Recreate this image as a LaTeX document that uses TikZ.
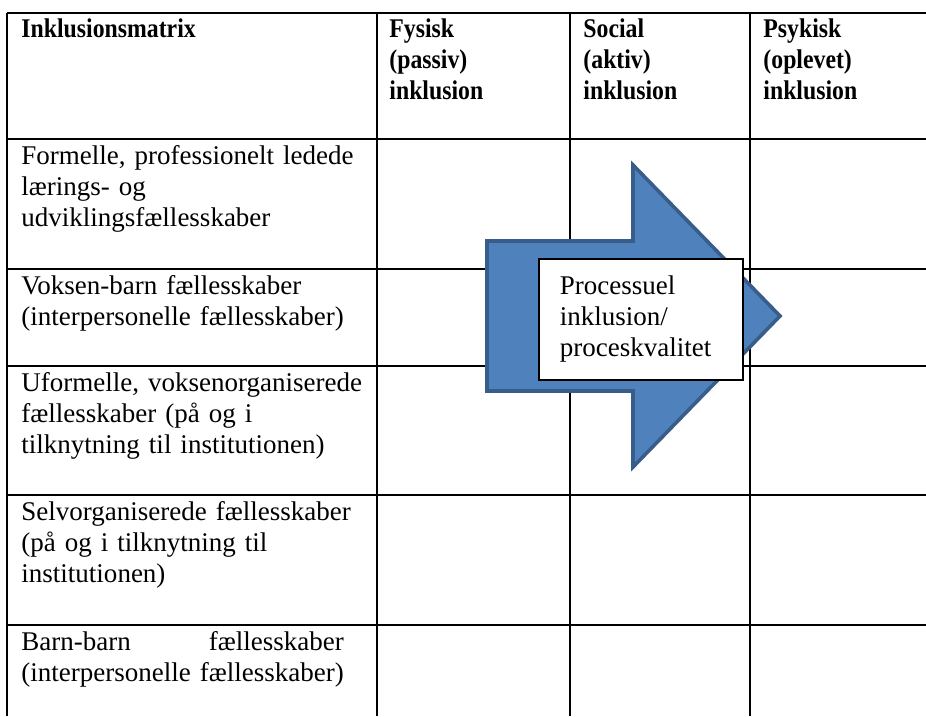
\documentclass[tikz,border=0pt]{standalone}
\usepackage{fontspec}
\setmainfont{Liberation Serif}
\newfontfamily\headfont[FakeStretch=0.88]{Liberation Serif}
\definecolor{arrowfill}{HTML}{4F81BD}
\definecolor{arrowedge}{HTML}{385D8A}
\newsavebox\lastline
\tikzset{
  cell/.style={anchor=base west,inner sep=0pt,align=left,text width=154pt,
    font=\fontsize{12}{13.8}\selectfont},
  head/.style={cell,text width=70pt,font=\headfont\fontsize{12}{13.8}\selectfont\bfseries},
  grid/.style={line width=0.8pt},
  procarrow/.style={fill=arrowfill,draw=arrowedge,line width=1.6pt,line join=miter},
  procbox/.style={draw,fill=white,line width=0.75pt,anchor=north west,align=left,
    text width=72pt,inner xsep=9.3pt,inner ysep=0pt,minimum height=53.8pt,
    font=\fontsize{12}{13.8}\selectfont}
}
\begin{document}
\begin{tikzpicture}[x=0.4444pt,y=-0.4444pt]
  \useasboundingbox (0,0) rectangle (926,716);
  % table lines
  \foreach \r in {13,139,269,366,495,625}
    \draw[grid] (7,\r) -- (926,\r);
  \foreach \c in {7,377,570,750}
    \draw[grid] (\c,13) -- (\c,716);
  % header
  \node[head] (hmat) at (21,37) {Inklusionsmatrix};
  \node[head] (hfys) at (389,37) {Fysisk\\(passiv)\\inklusion};
  \node[head] (hsoc) at (583,37) {Social\\(aktiv)\\inklusion};
  \node[head] (hpsy) at (763,37) {Psykisk\\(oplevet)\\inklusion};
  % rows
  \node[cell] (r1) at (21,164) {Formelle, professionelt ledede\\lærings- og\\udviklingsfællesskaber};
  \node[cell] (r2) at (21,294) {Voksen-barn fællesskaber\\(interpersonelle fællesskaber)};
  \node[cell] (r3) at (21,391) {Uformelle, voksenorganiserede\\fællesskaber (på og i\\tilknytning til institutionen)};
  \node[cell] (r4) at (21,520) {Selvorganiserede fællesskaber\\(på og i tilknytning til\\institutionen)};
  \node[cell] (r5) at (21,650) {\sbox\lastline{(interpersonelle fællesskaber)}%
    \hbox to \wd\lastline{Barn-barn\hfill fællesskaber}\\\usebox\lastline};
  % arrow and text box
  \draw[procarrow] (487,241) -- (633,241) -- (633,165) -- (780,316)
    -- (633,467) -- (633,391) -- (487,391) -- cycle;
  \node[procbox] (proc) at (538,258) {Processuel\\inklusion/\\proceskvalitet};
\end{tikzpicture}
\end{document}
